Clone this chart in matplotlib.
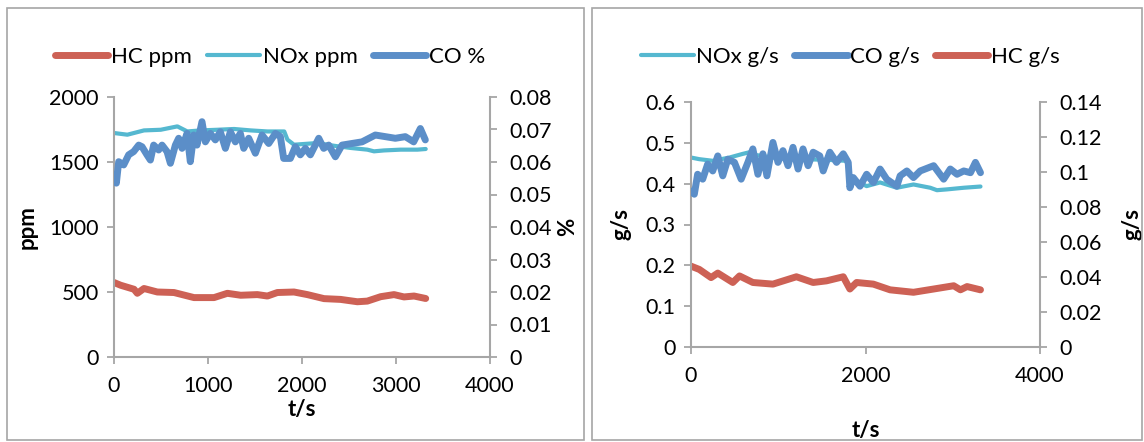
import numpy as np
import matplotlib.pyplot as plt
from matplotlib.patches import Rectangle
from matplotlib.ticker import FuncFormatter

plt.rcParams['font.family'] = ['Lato', 'DejaVu Sans']

# ---- left panel data (ppm / %) ----
hc_ppm_t = [0, 71, 213, 248, 319, 461, 638, 851, 1064, 1206, 1348, 1525, 1632, 1738, 1915,
            2057, 2234, 2411, 2589, 2695, 2837, 2979, 3085, 3192, 3316]
hc_ppm = [573, 552, 521, 490, 527, 500, 496, 457, 457, 490, 475, 480, 469, 496, 500,
          480, 449, 443, 425, 430, 464, 480, 462, 469, 450]

nox_ppm_t = [0, 142, 319, 497, 674, 780, 922, 1100, 1277, 1454, 1632, 1811, 1845, 1915,
             2164, 2340, 2518, 2695, 2766, 2872, 3050, 3228, 3316]
nox_ppm = [1723, 1710, 1743, 1748, 1774, 1735, 1743, 1748, 1754, 1743, 1735, 1735, 1672, 1633,
           1646, 1625, 1608, 1595, 1582, 1589, 1595, 1595, 1600]

co_pct_t = [0, 25, 50, 103, 156, 209, 263, 298, 351, 387, 422, 475, 511, 564, 600, 653, 688,
            724, 777, 812, 848, 883, 936, 972, 1025, 1078, 1131, 1185, 1238, 1291, 1344, 1380,
            1433, 1504, 1575, 1646, 1717, 1770, 1805, 1876, 1929, 1982, 2036, 2089, 2178,
            2231, 2284, 2355, 2426, 2532, 2639, 2780, 2887, 2993, 3099, 3188, 3259, 3312]
co_pct = [0.0560, 0.0535, 0.0601, 0.0591, 0.0622, 0.0632, 0.0652, 0.0647, 0.0622, 0.0606,
          0.0652, 0.0637, 0.0652, 0.0632, 0.0596, 0.0652, 0.0673, 0.0642, 0.0688, 0.0601,
          0.0683, 0.0652, 0.0724, 0.0662, 0.0688, 0.0668, 0.0693, 0.0642, 0.0693, 0.0662,
          0.0688, 0.0642, 0.0673, 0.0627, 0.0683, 0.0657, 0.0688, 0.0678, 0.0611, 0.0611,
          0.0647, 0.0622, 0.0642, 0.0622, 0.0673, 0.0642, 0.0652, 0.0616, 0.0652, 0.0657,
          0.0662, 0.0683, 0.0678, 0.0673, 0.0678, 0.0662, 0.0703, 0.0668]

# ---- right panel data (g/s) ----
nox_gs_t = [0, 95, 249, 441, 594, 671, 748, 1000, 1300, 1600, 1780, 1821, 1860, 2013, 2167,
            2359, 2550, 2742, 2819, 2934, 3126, 3318]
nox_gs = [0.464, 0.460, 0.456, 0.464, 0.473, 0.477, 0.470, 0.462, 0.460, 0.458, 0.456, 0.420,
          0.410, 0.394, 0.403, 0.390, 0.398, 0.390, 0.384, 0.386, 0.390, 0.393]

co_gs_t = [0, 38, 76, 134, 191, 249, 307, 364, 422, 498, 575, 652, 709, 767, 824, 870, 939,
           997, 1054, 1112, 1169, 1227, 1284, 1342, 1400, 1476, 1515, 1591, 1668, 1745, 1802,
           1821, 1860, 1937, 2013, 2090, 2167, 2243, 2359, 2397, 2474, 2550, 2627, 2781, 2896,
           2972, 3049, 3126, 3203, 3260, 3318]
co_gs = [0.0891, 0.0873, 0.0987, 0.0959, 0.1045, 0.1006, 0.1092, 0.0978, 0.1073, 0.1055,
         0.0959, 0.1055, 0.1132, 0.0987, 0.1104, 0.0978, 0.1169, 0.1055, 0.1122, 0.1036,
         0.1141, 0.1017, 0.1132, 0.1036, 0.1113, 0.1092, 0.1006, 0.1113, 0.1055, 0.1104,
         0.1055, 0.0910, 0.0968, 0.0919, 0.0987, 0.0940, 0.1017, 0.0959, 0.0919, 0.0978,
         0.1006, 0.0968, 0.1006, 0.1036, 0.0959, 0.1017, 0.0987, 0.1006, 0.0996, 0.1055,
         0.0996]

hc_gs_t = [0, 95, 230, 307, 479, 556, 709, 939, 1208, 1400, 1553, 1745, 1821, 1898, 2090,
           2282, 2550, 2781, 3011, 3088, 3164, 3318]
hc_gs = [0.198, 0.190, 0.170, 0.181, 0.158, 0.174, 0.158, 0.154, 0.172, 0.158, 0.162, 0.172,
         0.142, 0.158, 0.154, 0.140, 0.134, 0.142, 0.150, 0.140, 0.148, 0.140]

RED = '#cd6155'
CYAN = '#55b8d0'
BLUE = '#5b8ec8'
GRAY = '#a6a6a6'
TICK_FS = 15.5
LAB_FS = 16

fig = plt.figure(figsize=(11.44, 4.42), dpi=100)

# panel borders
for x0, x1 in [(7, 584), (592, 1142)]:
    fig.patches.append(Rectangle((x0 / 1144, 2 / 442), (x1 - x0) / 1144, 432 / 442,
                                 transform=fig.transFigure, fill=False,
                                 edgecolor=GRAY, linewidth=1.2))


def style(ax, side):
    for s in ['top', 'left', 'right', 'bottom']:
        ax.spines[s].set_visible(False)
    ax.spines[side].set_visible(True)
    ax.spines[side].set_color(GRAY)
    ax.spines[side].set_linewidth(1.5)
    ax.tick_params(axis='y', colors=GRAY, labelcolor='black', labelsize=TICK_FS,
                   direction='out', length=5, width=1.3, pad=6)
    ax.tick_params(axis='x', colors=GRAY, labelcolor='black', labelsize=TICK_FS,
                   direction='out', length=5, width=1.3, pad=9)
    ax.patch.set_visible(False)


fmt = FuncFormatter(lambda v, p: '%g' % round(v, 4))
lw_thick = dict(solid_capstyle='round', solid_joinstyle='round')

# ---------- left ----------
ax1 = fig.add_axes([114 / 1144, 1 - 357 / 442, 376 / 1144, 260 / 442])
ax1b = ax1.twinx()
l_hc, = ax1.plot(hc_ppm_t, hc_ppm, color=RED, lw=5, label='HC ppm', **lw_thick)
l_nox, = ax1.plot(nox_ppm_t, nox_ppm, color=CYAN, lw=3, label='NOx ppm', **lw_thick)
l_co, = ax1b.plot(co_pct_t, co_pct, color=BLUE, lw=5, label='CO %', **lw_thick)
ax1.set_xlim(0, 4000)
ax1.set_ylim(0, 2000)
ax1b.set_ylim(0, 0.08)
ax1.set_xticks([0, 1000, 2000, 3000, 4000])
ax1.set_yticks([0, 500, 1000, 1500, 2000])
ax1b.set_yticks(np.arange(0, 0.081, 0.01))
ax1b.yaxis.set_major_formatter(fmt)
style(ax1, 'left')
ax1.spines['bottom'].set_visible(True)
ax1.spines['bottom'].set_color(GRAY)
ax1.spines['bottom'].set_linewidth(1.5)
style(ax1b, 'right')
ax1b.tick_params(axis='y', pad=9)
ax1b.tick_params(axis='x', length=0)
ax1.set_xlabel('t/s', fontsize=LAB_FS, fontweight='bold', labelpad=2)
ax1.set_ylabel('ppm', fontsize=LAB_FS, fontweight='bold', labelpad=8)
ax1b.set_ylabel('%', fontsize=LAB_FS, fontweight='bold', labelpad=4)
fig.legend(handles=[l_hc, l_nox, l_co], loc='center', bbox_to_anchor=(270 / 1144, 1 - 57 / 442),
           ncol=3, frameon=False, fontsize=16, handlelength=2.4, handletextpad=0.1,
           columnspacing=0.7)

# ---------- right ----------
ax2 = fig.add_axes([691 / 1144, 1 - 347 / 442, 349 / 1144, 245 / 442])
ax2b = ax2.twinx()
r_nox, = ax2.plot(nox_gs_t, nox_gs, color=CYAN, lw=3, label='NOx g/s', **lw_thick)
r_hc, = ax2.plot(hc_gs_t, hc_gs, color=RED, lw=5, label='HC g/s', **lw_thick)
r_co, = ax2b.plot(co_gs_t, co_gs, color=BLUE, lw=5, label='CO g/s', **lw_thick)
ax2.set_xlim(0, 4000)
ax2.set_ylim(0, 0.6)
ax2b.set_ylim(0, 0.14)
ax2.set_xticks([0, 2000, 4000])
ax2.set_yticks(np.arange(0, 0.61, 0.1))
ax2b.set_yticks(np.arange(0, 0.141, 0.02))
ax2.yaxis.set_major_formatter(fmt)
ax2b.yaxis.set_major_formatter(fmt)
style(ax2, 'left')
ax2.spines['bottom'].set_visible(True)
ax2.spines['bottom'].set_color(GRAY)
ax2.spines['bottom'].set_linewidth(1.5)
style(ax2b, 'right')
ax2b.tick_params(axis='y', pad=9)
ax2b.tick_params(axis='x', length=0)
ax2.set_xlabel('t/s', fontsize=LAB_FS, fontweight='bold', labelpad=24)
ax2.set_ylabel('g/s', fontsize=LAB_FS, fontweight='bold', labelpad=10)
ax2b.set_ylabel('g/s', fontsize=LAB_FS, fontweight='bold', labelpad=14, rotation=90)
fig.legend(handles=[r_nox, r_co, r_hc], loc='center', bbox_to_anchor=(850 / 1144, 1 - 57 / 442),
           ncol=3, frameon=False, fontsize=16, handlelength=2.4, handletextpad=0.1,
           columnspacing=0.7)

fig.savefig('out.png', dpi=100)
